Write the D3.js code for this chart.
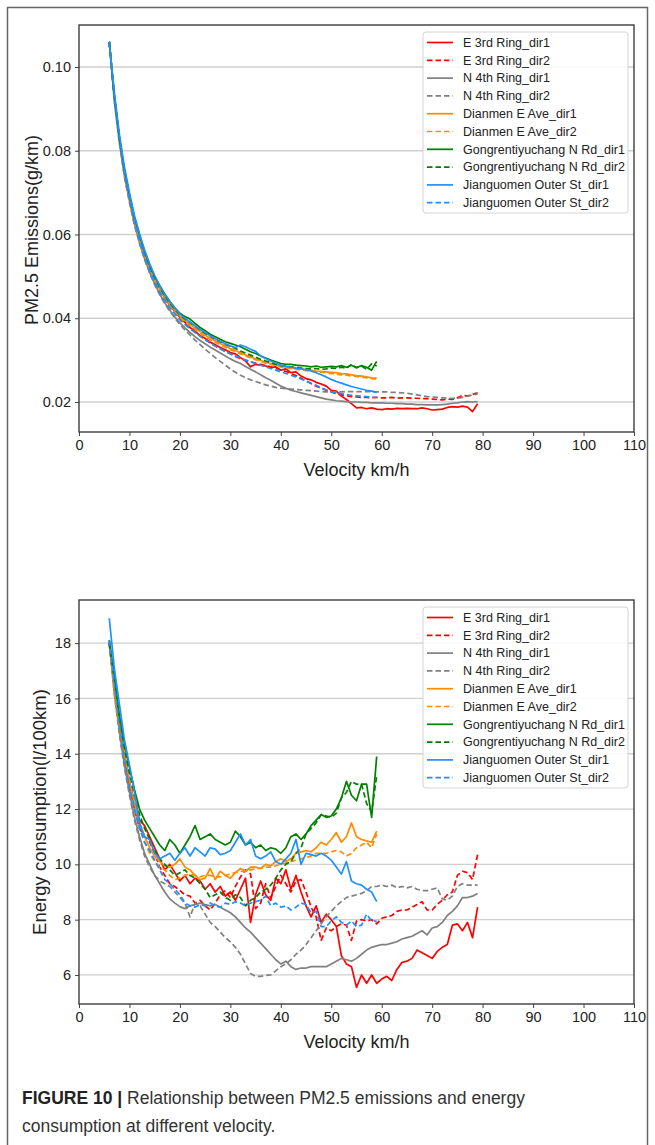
<!DOCTYPE html>
<html><head><meta charset="utf-8">
<script src="https://cdn.jsdelivr.net/npm/d3@7"></script>
<style>body{margin:0;background:#fff;} svg{display:block;font-family:"Liberation Sans",Arial,Helvetica,sans-serif;}</style>
</head><body><svg id="c" width="655" height="1145"></svg>
<script>
// ---------- shared ----------
const velStart = 6; // every series starts at 6 km/h, 1 km/h steps
const xTicks = [0,10,20,30,40,50,60,70,80,90,100,110];
const seriesNames = ["E 3rd Ring_dir1","E 3rd Ring_dir2","N 4th Ring_dir1","N 4th Ring_dir2",
  "Dianmen E Ave_dir1","Dianmen E Ave_dir2","Gongrentiyuchang N Rd_dir1","Gongrentiyuchang N Rd_dir2",
  "Jianguomen Outer St_dir1","Jianguomen Outer St_dir2"];
const seriesColors = ["#ff0000","#ff0000","#808080","#808080","#ff8c00","#ff8c00","#008000","#008000","#1e90ff","#1e90ff"];
const seriesDashed = [false,true,false,true,false,true,false,true,false,true];

// ---------- PM2.5 emissions (g/km) ----------
const pmTicks = [0.02,0.04,0.06,0.08,0.10];
const pmE3rd1 = [.106,.093,.083,.0750,.0690,.0635,.0590,.0553,.0521,.0493,
 .0470,.0449,.0431,.0416,.0402,.0390,.0378,.0369,.0358,.0352,
 .0343,.0337,.0330,.0325,.0318,.0315,.0306,.0298,.0284,.0290,
 .0288,.0286,.0282,.0284,.0276,.0279,.0270,.0272,.0262,.0256,
 .0253,.0247,.0243,.0238,.0228,.0226,.0214,.0206,.0196,.0186,
 .0187,.0184,.0186,.0183,.0182,.0184,.0183,.0185,.0184,.0185,
 .0184,.0184,.0186,.0184,.0181,.0182,.0183,.0187,.0189,.0188,
 .0190,.0188,.0177,.0196];
const pmE3rd2 = [.106,.093,.083,.0750,.0690,.0634,.0589,.0551,.0519,.0491,
 .0468,.0447,.0429,.0414,.0400,.0388,.0377,.0367,.0358,.0349,
 .0341,.0334,.0327,.0321,.0315,.0309,.0304,.0300,.0296,.0293,
 .0290,.0287,.0284,.0280,.0277,.0273,.0268,.0263,.0257,.0250,
 .0244,.0238,.0233,.0228,.0224,.0220,.0217,.0215,.0213,.0212,
 .0211,.0211,.0210,.0211,.0210,.0210,.0211,.0209,.0210,.0210,
 .0209,.0209,.0208,.0208,.0207,.0206,.0205,.0207,.0206,.0210,
 .0216,.0214,.0218,.0222];
const pmN4th1 = [.106,.092,.082,.0740,.0680,.0625,.0580,.0542,.0510,.0482,
 .0458,.0437,.0419,.0403,.0389,.0377,.0366,.0356,.0347,.0339,
 .0331,.0324,.0317,.0310,.0303,.0297,.0292,.0285,.0278,.0272,
 .0265,.0258,.0252,.0245,.0238,.0233,.0228,.0225,.0222,.0219,
 .0216,.0213,.0210,.0207,.0205,.0203,.0202,.0201,.0200,.0200,
 .0199,.0199,.0198,.0198,.0198,.0197,.0197,.0196,.0196,.0195,
 .0195,.0194,.0194,.0193,.0193,.0193,.0194,.0195,.0197,.0198,
 .0200,.0201,.0200,.0201];
const pmN4th2 = [.106,.092,.082,.0738,.0676,.0622,.0578,.0540,.0508,.0480,
 .0456,.0435,.0417,.0400,.0385,.0372,.0360,.0348,.0337,.0326,
 .0316,.0306,.0297,.0288,.0279,.0271,.0264,.0258,.0253,.0249,
 .0245,.0241,.0238,.0235,.0233,.0232,.0231,.0230,.0229,.0228,
 .0227,.0226,.0225,.0224,.0224,.0224,.0224,.0225,.0225,.0225,
 .0225,.0225,.0225,.0224,.0224,.0224,.0223,.0223,.0222,.0221,
 .0219,.0217,.0215,.0213,.0212,.0211,.0210,.0209,.0209,.0209,
 .0211,.0214,.0217,.0219];
const pmDian1 = [.106,.093,.083,.0750,.0690,.0635,.0590,.0552,.0520,.0493,
 .0470,.0450,.0433,.0418,.0405,.0395,.0386,.0377,.0368,.0360,
 .0352,.0346,.0340,.0334,.0328,.0323,.0318,.0313,.0308,.0303,
 .0299,.0295,.0292,.0289,.0286,.0284,.0282,.0280,.0279,.0277,
 .0276,.0274,.0273,.0272,.0271,.0270,.0268,.0267,.0265,.0263,
 .0262,.0260,.0258,.0257];
const pmDian2 = [.106,.093,.083,.0750,.0688,.0633,.0588,.0550,.0518,.0490,
 .0467,.0447,.0430,.0415,.0402,.0391,.0382,.0373,.0364,.0356,
 .0349,.0343,.0337,.0331,.0325,.0320,.0315,.0310,.0305,.0301,
 .0297,.0293,.0290,.0287,.0284,.0282,.0280,.0278,.0277,.0275,
 .0274,.0272,.0271,.0270,.0268,.0267,.0265,.0264,.0262,.0261,
 .0259,.0258,.0256,.0255];
const pmGong1 = [.106,.093,.083,.0755,.0695,.0640,.0598,.0560,.0528,.0500,
 .0478,.0458,.0440,.0425,.0412,.0404,.0398,.0388,.0378,.0370,
 .0362,.0356,.0350,.0344,.0340,.0336,.0332,.0326,.0320,.0316,
 .0310,.0305,.0300,.0296,.0292,.0290,.0290,.0288,.0287,.0286,
 .0284,.0286,.0283,.0284,.0285,.0284,.0287,.0283,.0288,.0282,
 .0287,.0283,.0276,.0297];
const pmGong2 = [.106,.093,.083,.0752,.0690,.0636,.0594,.0556,.0524,.0497,
 .0474,.0454,.0436,.0421,.0408,.0398,.0390,.0381,.0372,.0364,
 .0357,.0350,.0344,.0338,.0333,.0328,.0322,.0317,.0312,.0307,
 .0302,.0298,.0294,.0290,.0287,.0285,.0284,.0283,.0281,.0280,
 .0279,.0280,.0278,.0279,.0281,.0280,.0283,.0280,.0290,.0282,
 .0286,.0278,.0291,.0286];
const pmJian1 = [.106,.094,.084,.0762,.0700,.0645,.0602,.0563,.0530,.0502,
 .0478,.0457,.0440,.0424,.0410,.0400,.0391,.0382,.0373,.0366,
 .0358,.0351,.0345,.0339,.0334,.0330,.0336,.0332,.0326,.0321,
 .0310,.0304,.0298,.0293,.0288,.0285,.0283,.0281,.0279,.0277,
 .0274,.0270,.0265,.0260,.0254,.0249,.0245,.0241,.0237,.0234,
 .0231,.0228,.0226,.0223];
const pmJian2 = [.106,.093,.083,.0750,.0688,.0632,.0587,.0548,.0515,.0487,
 .0463,.0443,.0425,.0410,.0396,.0385,.0375,.0366,.0357,.0349,
 .0341,.0334,.0327,.0321,.0315,.0310,.0305,.0300,.0296,.0292,
 .0288,.0284,.0280,.0276,.0272,.0268,.0264,.0260,.0255,.0250,
 .0245,.0240,.0234,.0229,.0225,.0222,.0220,.0218,.0216,.0215,
 .0214,.0213,.0212,.0211];

// ---------- Energy consumption (l/100km) ----------
const enTicks = [6,8,10,12,14,16,18];
const enE3rd1 = [18.0,16.6,15.1,14.0,13.0,12.2,11.6,11.4,11.0,10.6,
 10.2,9.8,10.0,9.7,9.4,9.6,9.3,9.5,9.4,9.1,
 9.3,9.0,9.2,8.85,9.0,8.7,9.1,9.5,7.9,8.9,
 9.4,8.9,8.7,9.5,9.3,9.8,9.1,9.6,9.0,8.5,
 8.1,8.5,7.9,8.2,8.0,7.75,6.7,6.4,6.3,5.55,
 6.0,5.7,6.0,5.7,5.85,5.95,5.8,6.2,6.45,6.5,
 6.6,6.9,6.8,6.7,6.6,6.85,7.0,7.1,7.8,7.85,
 7.6,7.9,7.35,8.45];
const enE3rd2 = [18.0,16.4,14.9,13.8,12.8,12.0,11.3,11.0,10.8,10.4,
 9.9,9.6,9.3,9.2,9.05,8.9,8.85,8.6,8.7,8.5,
 8.35,8.6,8.9,9.05,8.8,9.2,9.55,9.8,9.65,8.4,
 8.6,9.3,8.8,9.2,9.6,9.3,9.0,9.4,9.45,9.0,
 8.45,8.1,7.25,7.7,7.6,7.75,7.85,7.8,7.25,7.95,
 8.0,7.95,8.0,7.85,8.05,8.1,8.15,8.3,8.35,8.35,
 8.45,8.55,8.65,8.35,8.35,8.55,8.7,8.9,9.0,9.6,
 9.75,9.7,9.45,10.35];
const enN4th1 = [18.0,16.3,14.8,13.6,12.6,11.7,11.0,10.4,10.0,9.6,
 9.3,9.0,8.75,8.6,8.47,8.4,8.5,8.55,8.6,8.55,
 8.5,8.55,8.45,8.35,8.25,8.1,7.9,7.7,7.55,7.35,
 7.15,6.95,6.75,6.55,6.4,6.5,6.3,6.2,6.25,6.25,
 6.3,6.3,6.3,6.3,6.4,6.5,6.6,6.55,6.5,6.6,
 6.75,6.9,7.0,7.05,7.1,7.1,7.15,7.2,7.3,7.35,
 7.4,7.5,7.6,7.45,7.7,7.75,7.9,8.15,8.3,8.5,
 8.8,8.8,8.85,8.95];
const enN4th2 = [18.0,16.2,14.7,13.5,12.5,11.6,10.9,10.3,9.9,9.6,
 9.4,9.3,9.2,9.0,8.8,8.6,8.1,8.6,8.5,8.2,
 7.9,7.75,7.55,7.35,7.2,7.0,6.75,6.4,6.05,5.95,
 5.95,5.98,6.0,6.15,6.3,6.4,6.55,6.75,6.9,7.1,
 7.35,7.6,7.85,8.1,8.3,8.5,8.65,8.8,8.85,8.9,
 8.95,9.05,9.2,9.2,9.25,9.2,9.25,9.15,9.2,9.15,
 9.2,9.1,9.05,9.05,9.1,9.15,8.75,8.7,8.85,9.2,
 9.3,9.25,9.25,9.25];
const enDian1 = [18.1,16.6,15.1,14.0,13.0,12.2,11.5,11.0,10.6,10.3,
 10.1,9.95,9.9,10.0,10.2,9.9,9.8,9.6,9.45,9.5,
 9.85,9.45,9.75,9.6,9.5,9.7,9.85,9.75,9.9,9.9,
 9.85,10.0,9.95,10.1,10.2,10.1,10.2,10.4,10.45,10.5,
 10.45,10.6,10.8,10.7,10.9,11.15,10.8,11.0,11.5,11.0,
 10.9,10.85,10.8,11.2];
const enDian2 = [18.1,16.1,14.9,13.9,12.9,12.0,11.3,10.8,10.4,10.1,
 9.9,9.8,9.6,9.45,9.5,9.6,9.65,9.6,9.55,9.6,
 9.6,9.55,9.55,9.6,9.65,9.7,9.75,9.75,9.8,9.85,
 9.85,9.9,9.9,9.95,10.0,10.05,10.1,10.15,10.2,10.25,
 10.3,10.4,10.4,10.4,10.45,10.5,10.45,10.3,10.4,10.6,
 10.7,10.8,10.6,11.1];
const enGong1 = [18.1,16.8,15.4,14.4,13.5,12.7,12.0,11.6,11.3,11.0,
 10.7,10.5,10.9,10.7,10.4,10.7,11.0,11.4,10.9,11.0,
 11.1,10.9,10.8,10.7,10.8,11.2,11.0,10.7,10.8,10.6,
 10.7,10.5,10.6,10.55,10.4,10.6,11.0,11.1,10.9,11.1,
 11.4,11.6,11.8,11.7,11.75,12.0,12.4,13.0,12.5,12.3,
 12.9,12.9,11.7,13.9];
const enGong2 = [18.0,16.7,15.3,14.2,13.3,12.5,11.8,11.3,10.9,10.5,
 10.2,10.0,9.8,9.6,9.7,9.8,9.6,9.5,9.3,9.1,
 8.8,8.9,9.0,8.8,8.7,8.9,8.8,8.5,8.7,8.8,
 9.0,9.1,9.25,9.5,9.8,10.0,10.1,10.4,10.6,11.1,
 11.3,11.5,11.8,11.75,11.7,11.85,12.4,12.6,13.0,12.9,
 12.9,12.2,11.9,13.2];
const enJian1 = [18.9,17.1,15.8,14.5,13.6,12.6,11.5,11.0,10.9,10.4,
 10.2,10.3,10.4,10.15,10.4,10.6,10.3,10.6,10.45,10.3,
 10.6,10.55,10.35,10.4,10.5,10.8,11.1,10.7,10.9,10.3,
 10.2,10.3,10.45,10.1,10.0,10.2,10.4,10.9,10.0,10.4,
 10.35,10.3,10.4,10.3,10.15,9.9,9.65,10.1,9.4,9.3,
 9.25,9.1,9.0,8.65];
const enJian2 = [18.1,16.5,15.0,13.8,12.8,12.0,11.3,10.8,10.5,10.15,
 9.8,9.45,9.3,9.1,8.9,8.6,8.5,8.45,8.55,8.5,
 8.6,8.5,8.45,8.6,8.55,8.65,8.6,8.5,8.6,8.65,
 8.7,8.85,8.5,8.6,8.45,8.5,8.35,8.45,8.6,8.55,
 8.25,8.3,7.75,7.75,7.95,8.1,7.9,7.8,7.95,7.75,
 7.8,8.2,7.95,7.95];

const pmSeries = [pmE3rd1,pmE3rd2,pmN4th1,pmN4th2,pmDian1,pmDian2,pmGong1,pmGong2,pmJian1,pmJian2];
const enSeries = [enE3rd1,enE3rd2,enN4th1,enN4th2,enDian1,enDian2,enGong1,enGong2,enJian1,enJian2];

const svg = d3.select("#c");

// outer figure frame
svg.append("rect").attr("x",7.5).attr("y",7.5).attr("width",640).attr("height",1160)
  .attr("fill","none").attr("stroke","#666").attr("stroke-width",1.5);

function drawChart(o){
  const L = 79, R = 634;
  const x = d3.scaleLinear().domain([0,110]).range([L,R]);
  const y = d3.scaleLinear().domain(o.yDomain).range([o.bottom,o.top]);
  const g = svg.append("g");
  // grid
  g.selectAll(".grid").data(o.yTicks).join("line")
    .attr("x1",L).attr("x2",R).attr("y1",d=>y(d)).attr("y2",d=>y(d))
    .attr("stroke","#cfcfcf").attr("stroke-width",1.3);
  // axes
  const xa = g.append("g").attr("transform",`translate(0,${o.bottom})`)
    .call(d3.axisBottom(x).tickValues(xTicks).tickSize(4).tickPadding(4).tickFormat(d3.format("d")));
  const ya = g.append("g").attr("transform",`translate(${L},0)`)
    .call(d3.axisLeft(y).tickValues(o.yTicks).tickSize(4).tickPadding(4).tickFormat(o.fmt));
  [xa,ya].forEach(a=>{
    a.select(".domain").remove();
    a.selectAll("line").attr("stroke","#444");
    a.selectAll("text").attr("font-size",14.5).attr("fill","#222")
      .attr("font-family","'Liberation Sans',Arial,sans-serif");
  });
  // lines
  const line = d3.line().x((d,i)=>x(velStart+i)).y(d=>y(d));
  o.series.forEach((s,k)=>{
    g.append("path").datum(s).attr("d",line).attr("fill","none")
      .attr("stroke",seriesColors[k]).attr("stroke-width",1.7)
      .attr("stroke-linejoin","round")
      .attr("stroke-dasharray",seriesDashed[k]?"5.5,3":null);
  });
  // frame
  g.append("rect").attr("x",L).attr("y",o.top).attr("width",R-L).attr("height",o.bottom-o.top)
    .attr("fill","none").attr("stroke","#3c3c3c").attr("stroke-width",1.4);
  // labels
  g.append("text").attr("x",(L+R)/2).attr("y",o.bottom+44).attr("text-anchor","middle")
    .attr("font-size",18).attr("fill","#222").text("Velocity km/h");
  g.append("text").attr("transform",`translate(${o.yLabelX},${o.yLabelY}) rotate(-90)`)
    .attr("text-anchor","middle").attr("font-size",o.yLabelSize).attr("fill","#222").text(o.yLabel);
  // legend
  const lg = g.append("g");
  const ly = o.top + 7;
  lg.append("rect").attr("x",423).attr("y",ly).attr("width",205).attr("height",181).attr("rx",3)
    .attr("fill","#fff").attr("fill-opacity",0.85).attr("stroke","#d4d4d4");
  seriesNames.forEach((n,k)=>{
    const yy = ly + 10.5 + k*17.8;
    lg.append("line").attr("x1",427).attr("x2",453).attr("y1",yy).attr("y2",yy)
      .attr("stroke",seriesColors[k]).attr("stroke-width",1.7)
      .attr("stroke-dasharray",seriesDashed[k]?"5.5,3":null);
    lg.append("text").attr("x",463).attr("y",yy).attr("dy","0.35em")
      .attr("font-size",12.5).attr("fill","#222").text(n);
  });
}

drawChart({top:25,bottom:432,yDomain:[0.01284,0.11003],yTicks:pmTicks,fmt:d3.format(".2f"),
  series:pmSeries,yLabel:"PM2.5 Emissions(g/km)",yLabelX:38,yLabelY:230,yLabelSize:18});
drawChart({top:600,bottom:1004,yDomain:[4.95,19.56],yTicks:enTicks,fmt:d3.format("d"),
  series:enSeries,yLabel:"Energy consumption(l/100km)",yLabelX:46,yLabelY:812,yLabelSize:18.5});

// caption
const cap = svg.append("text").attr("x",22).attr("y",1104).attr("font-size",17.5).attr("fill","#333");
cap.append("tspan").attr("font-weight","bold").attr("fill","#222").text("FIGURE 10 | ");
cap.append("tspan").text("Relationship between PM2.5 emissions and energy");
svg.append("text").attr("x",22).attr("y",1132).attr("font-size",17.5).attr("fill","#333")
  .text("consumption at different velocity.");
</script></body></html>
